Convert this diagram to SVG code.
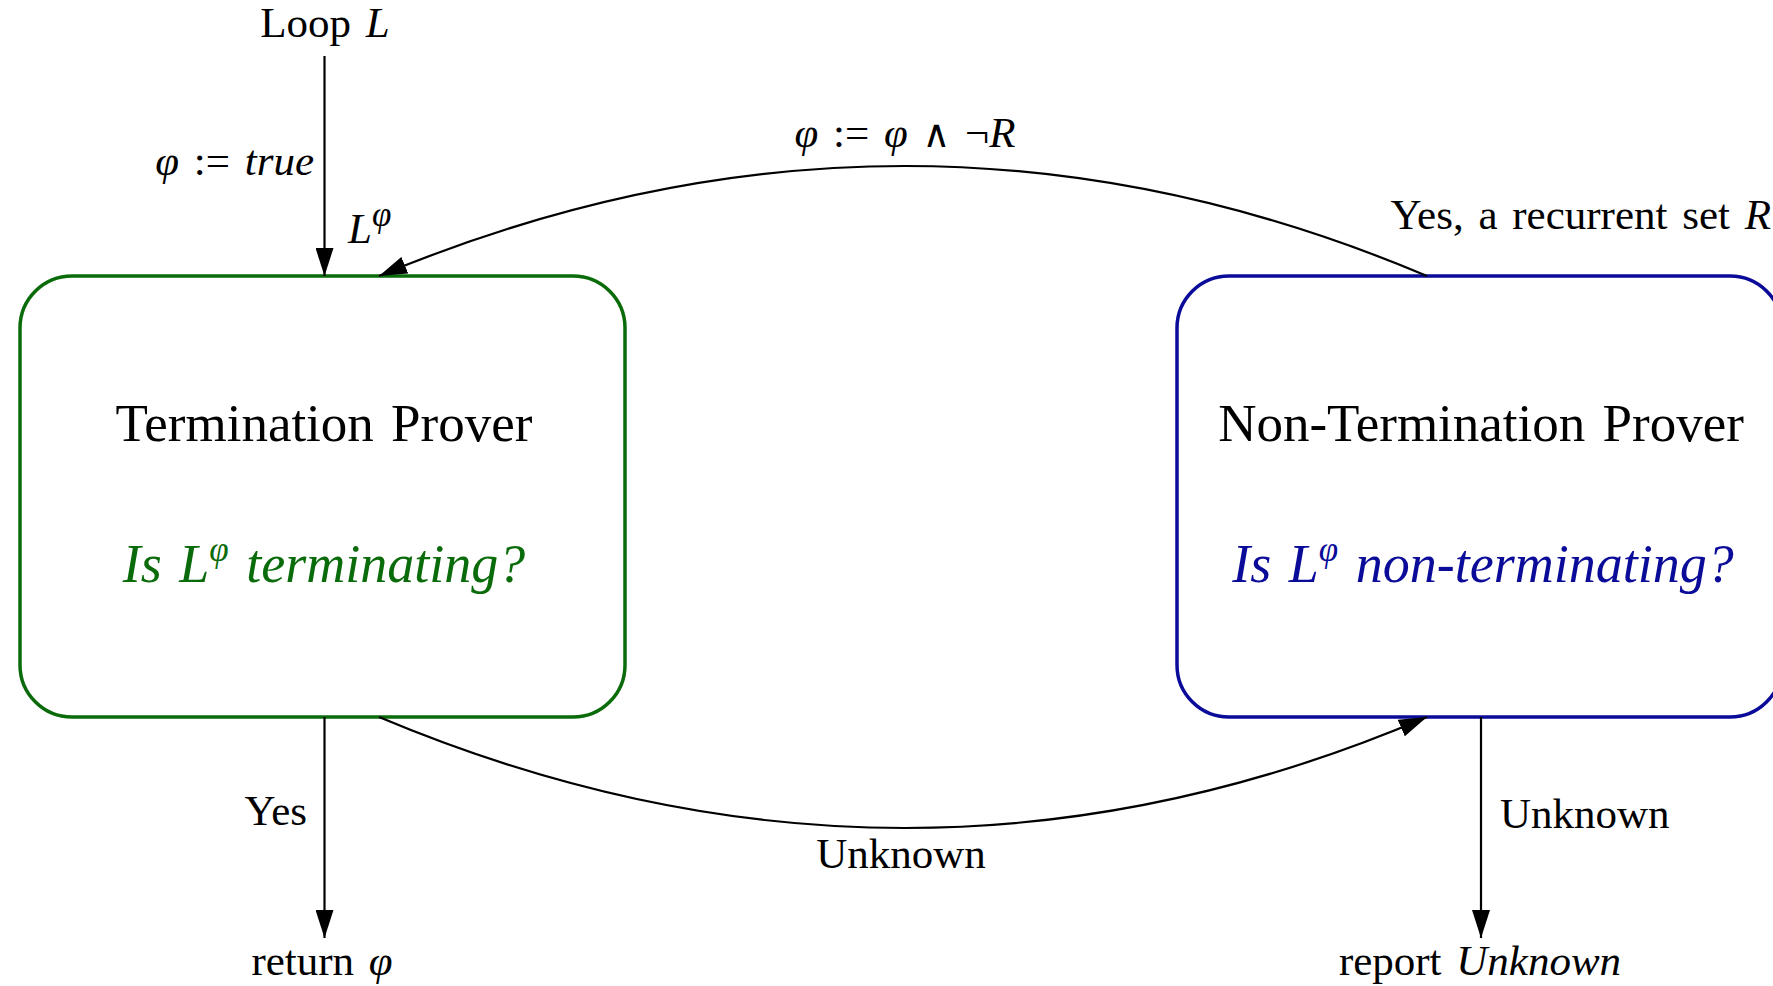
<svg xmlns="http://www.w3.org/2000/svg" width="1773" height="986" viewBox="0 0 1773 986">
<style>
.t{font-family:"Liberation Serif","DejaVu Serif",serif;fill:#000}
.lbl{font-size:43px;word-spacing:4px}
.title{font-size:53px;word-spacing:4px}
.q{font-size:54px;font-style:italic;word-spacing:4px}
.i{font-style:italic}
.sup{font-size:35px}
.m{font-family:"DejaVu Serif",serif;font-size:38px}
.edge{fill:none;stroke:#000;stroke-width:2.2}
.box{fill:#fff;stroke-width:3.5}
</style>
<defs>
<marker id="ah" viewBox="0 0 28 18" refX="28" refY="9" markerWidth="28" markerHeight="18" markerUnits="userSpaceOnUse" orient="auto">
<path d="M0,0 L28,9 L0,18 z" fill="#000"/>
</marker>
</defs>
<g id="node-tp">
<rect class="box" x="20" y="276" width="605" height="441" rx="52" stroke="#0a6b0a"/>
<text class="t title" x="324" y="441" text-anchor="middle">Termination Prover</text>
<text class="t q" x="324" y="582" text-anchor="middle" style="fill:#0a6b0a">Is L<tspan class="sup" dy="-21">φ</tspan><tspan dy="21"> terminating?</tspan></text>
</g>
<g id="node-ntp">
<rect class="box" x="1177" y="276" width="605" height="441" rx="52" stroke="#0b0b99"/>
<text class="t title" x="1481" y="441" text-anchor="middle">Non-Termination Prover</text>
<text class="t q" x="1483" y="582" text-anchor="middle" style="fill:#0b0b99">Is L<tspan class="sup" dy="-21">φ</tspan><tspan dy="21"> non-terminating?</tspan></text>
</g>
<g id="node-loop">
<text class="t lbl" x="325" y="37" text-anchor="middle">Loop <tspan class="i">L</tspan></text>
</g>
<g id="node-return">
<text class="t lbl" x="322" y="975" text-anchor="middle">return <tspan class="i">φ</tspan></text>
</g>
<g id="node-report">
<text class="t lbl" x="1480" y="975" text-anchor="middle">report <tspan class="i">Unknown</tspan></text>
</g>
<g id="connectors">
<path class="edge" d="M324.5,56 L324.5,276" marker-end="url(#ah)"/>
<path class="edge" d="M1427,276 Q907,56 379,276" marker-end="url(#ah)"/>
<path class="edge" d="M379,717 Q907,939 1427,717" marker-end="url(#ah)"/>
<path class="edge" d="M324.5,717 L324.5,938" marker-end="url(#ah)"/>
<path class="edge" d="M1481,717 L1481,938" marker-end="url(#ah)"/>
<text class="t lbl" x="314" y="175" text-anchor="end"><tspan class="i">φ</tspan> := <tspan class="i">true</tspan></text>
<text class="t lbl" x="348" y="243"><tspan class="i">L</tspan><tspan class="sup i" dy="-17">φ</tspan></text>
<text class="t lbl" x="905" y="147" text-anchor="middle"><tspan class="i">φ</tspan> := <tspan class="i">φ</tspan> <tspan class="m">∧</tspan> ¬<tspan class="i">R</tspan></text>
<text class="t lbl" x="1771" y="229" text-anchor="end">Yes, a recurrent set <tspan class="i">R</tspan></text>
<text class="t lbl" x="901" y="868" text-anchor="middle">Unknown</text>
<text class="t lbl" x="307" y="825" text-anchor="end">Yes</text>
<text class="t lbl" x="1500" y="828">Unknown</text>
</g>
</svg>
